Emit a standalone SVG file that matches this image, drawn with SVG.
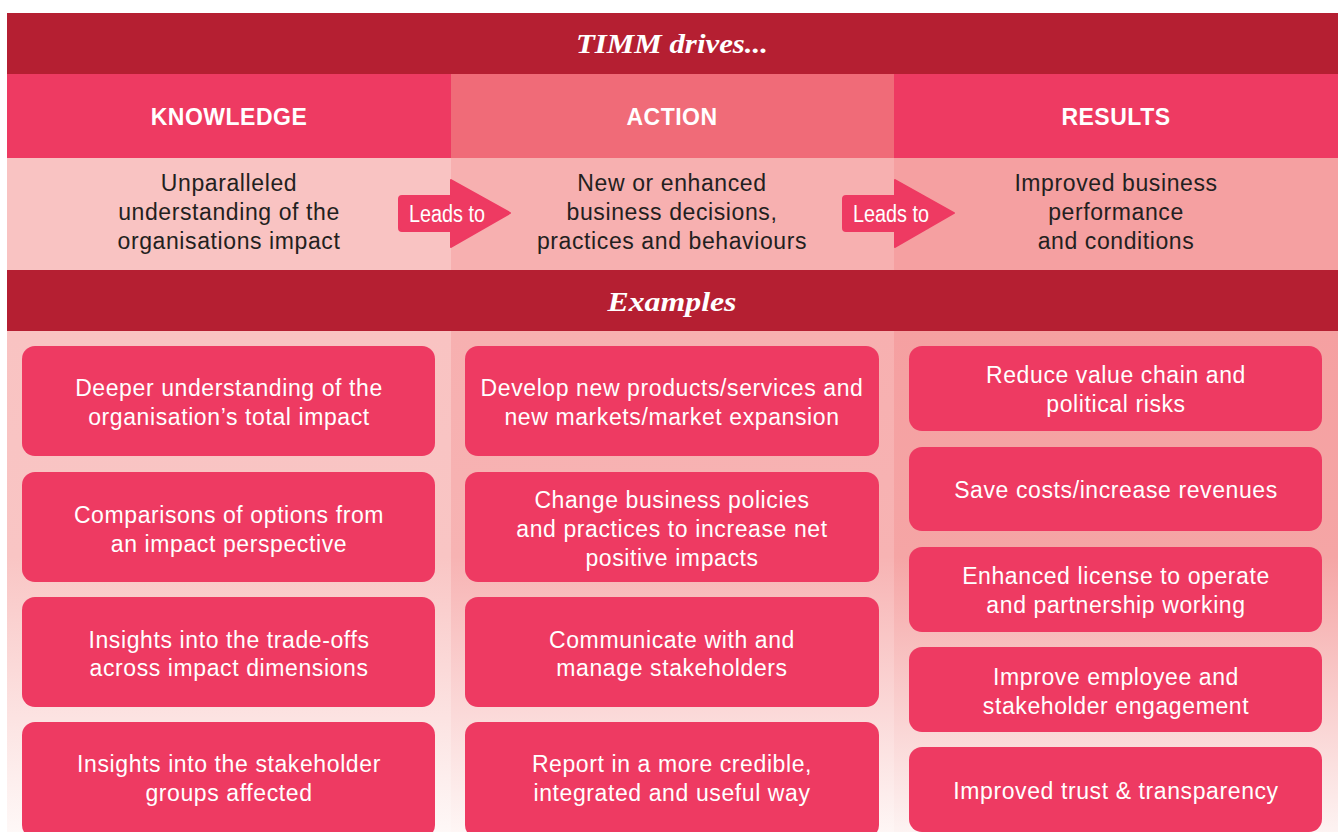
<svg xmlns="http://www.w3.org/2000/svg" width="1343" height="832" viewBox="0 0 1343 832">
  <defs>
    <linearGradient id="g1" gradientUnits="userSpaceOnUse" x1="0" y1="331" x2="0" y2="832">
      <stop offset="0" stop-color="#F9C3C2"/>
      <stop offset="0.45" stop-color="#F9C5C4"/>
      <stop offset="1" stop-color="#FEF8F7"/>
    </linearGradient>
    <linearGradient id="g2" gradientUnits="userSpaceOnUse" x1="0" y1="331" x2="0" y2="832">
      <stop offset="0" stop-color="#F7B0B0"/>
      <stop offset="0.45" stop-color="#F7B3B3"/>
      <stop offset="1" stop-color="#FEF6F5"/>
    </linearGradient>
    <linearGradient id="g3" gradientUnits="userSpaceOnUse" x1="0" y1="331" x2="0" y2="832">
      <stop offset="0" stop-color="#F5A0A1"/>
      <stop offset="0.45" stop-color="#F5A5A5"/>
      <stop offset="1" stop-color="#FDF3F2"/>
    </linearGradient>
    <style>
      .band { fill: #B51F32; }
      .title { font-family: "Liberation Serif", serif; font-weight: bold; font-style: italic; font-size: 27px; fill: #FFFFFF; text-anchor: middle; }
      .head { font-family: "Liberation Sans", Arial, sans-serif; font-weight: bold; font-size: 23px; letter-spacing: 0.5px; fill: #FFFFFF; text-anchor: middle; }
      .desc { font-family: "Liberation Sans", Arial, sans-serif; font-size: 23px; letter-spacing: 0.6px; fill: #231F20; text-anchor: middle; }
      .box { fill: #EE3A62; }
      .bt { font-family: "Liberation Sans", Arial, sans-serif; font-size: 23px; letter-spacing: 0.6px; fill: #FFFFFF; text-anchor: middle; }
      .arrow { fill: #EE3A62; stroke: #EE3A62; stroke-width: 2; stroke-linejoin: round; }
      .lt { font-family: "Liberation Sans Narrow", "Liberation Sans", Arial, sans-serif; font-size: 23px; fill: #FFFFFF; }
    </style>
  </defs>

  <g id="backgrounds">
    <rect class="band" x="7" y="13" width="1331" height="61"/>
    <rect x="7" y="74" width="444" height="84" fill="#EE3A62"/>
    <rect x="451" y="74" width="443" height="84" fill="#F06B78"/>
    <rect x="894" y="74" width="444" height="84" fill="#EE3A62"/>
    <rect x="7" y="158" width="444" height="112" fill="#F9C3C2"/>
    <rect x="451" y="158" width="443" height="112" fill="#F7B0B0"/>
    <rect x="894" y="158" width="444" height="112" fill="#F5A0A1"/>
    <rect class="band" x="7" y="270" width="1331" height="61"/>
    <rect x="7" y="331" width="444" height="501" fill="url(#g1)"/>
    <rect x="451" y="331" width="443" height="501" fill="url(#g2)"/>
    <rect x="894" y="331" width="444" height="501" fill="url(#g3)"/>
  </g>

  <g id="title">
    <text class="title" x="672" y="53" textLength="192" lengthAdjust="spacingAndGlyphs">TIMM drives...</text>
  </g>

  <g id="knowledge">
    <text class="head" x="229" y="125">KNOWLEDGE</text>
    <text class="desc" x="229" y="191">Unparalleled</text>
    <text class="desc" x="229" y="220">understanding of the</text>
    <text class="desc" x="229" y="249">organisations impact</text>
  </g>
  <g id="action">
    <text class="head" x="672" y="125">ACTION</text>
    <text class="desc" x="672" y="191">New or enhanced</text>
    <text class="desc" x="672" y="220">business decisions,</text>
    <text class="desc" x="672" y="249">practices and behaviours</text>
  </g>
  <g id="results">
    <text class="head" x="1116" y="125">RESULTS</text>
    <text class="desc" x="1116" y="191">Improved business</text>
    <text class="desc" x="1116" y="220">performance</text>
    <text class="desc" x="1116" y="249">and conditions</text>
  </g>

  <g id="connectors">
    <g id="arrow1">
      <path class="arrow" d="M402 196 H451 V180 L510 213 L451 247 V231 H402 Q399 231 399 228 V199 Q399 196 402 196 Z"/>
      <text class="lt" x="409" y="222" textLength="76" lengthAdjust="spacingAndGlyphs">Leads to</text>
    </g>
    <g id="arrow2">
      <path class="arrow" d="M846 196 H895 V180 L954 213 L895 247 V231 H846 Q843 231 843 228 V199 Q843 196 846 196 Z"/>
      <text class="lt" x="853" y="222" textLength="76" lengthAdjust="spacingAndGlyphs">Leads to</text>
    </g>
  </g>

  <g id="examples">
    <text class="title" x="672" y="311" textLength="129" lengthAdjust="spacingAndGlyphs">Examples</text>
  </g>

  <g id="k1"><rect class="box" x="22" y="346" width="413" height="110" rx="13"/>
    <text class="bt" x="229" y="396">Deeper understanding of the</text>
    <text class="bt" x="229" y="425">organisation’s total impact</text></g>
  <g id="k2"><rect class="box" x="22" y="472" width="413" height="110" rx="13"/>
    <text class="bt" x="229" y="523">Comparisons of options from</text>
    <text class="bt" x="229" y="552">an impact perspective</text></g>
  <g id="k3"><rect class="box" x="22" y="597" width="413" height="110" rx="13"/>
    <text class="bt" x="229" y="648">Insights into the trade-offs</text>
    <text class="bt" x="229" y="676">across impact dimensions</text></g>
  <g id="k4"><rect class="box" x="22" y="722" width="413" height="116" rx="13"/>
    <text class="bt" x="229" y="772">Insights into the stakeholder</text>
    <text class="bt" x="229" y="801">groups affected</text></g>

  <g id="a1"><rect class="box" x="465" y="346" width="414" height="110" rx="13"/>
    <text class="bt" x="672" y="396">Develop new products/services and</text>
    <text class="bt" x="672" y="425">new markets/market expansion</text></g>
  <g id="a2"><rect class="box" x="465" y="472" width="414" height="110" rx="13"/>
    <text class="bt" x="672" y="508">Change business policies</text>
    <text class="bt" x="672" y="537">and practices to increase net</text>
    <text class="bt" x="672" y="566">positive impacts</text></g>
  <g id="a3"><rect class="box" x="465" y="597" width="414" height="110" rx="13"/>
    <text class="bt" x="672" y="648">Communicate with and</text>
    <text class="bt" x="672" y="676">manage stakeholders</text></g>
  <g id="a4"><rect class="box" x="465" y="722" width="414" height="116" rx="13"/>
    <text class="bt" x="672" y="772">Report in a more credible,</text>
    <text class="bt" x="672" y="801">integrated and useful way</text></g>

  <g id="r1"><rect class="box" x="909" y="346" width="413" height="85" rx="13"/>
    <text class="bt" x="1116" y="383">Reduce value chain and</text>
    <text class="bt" x="1116" y="412">political risks</text></g>
  <g id="r2"><rect class="box" x="909" y="447" width="413" height="84" rx="13"/>
    <text class="bt" x="1116" y="498">Save costs/increase revenues</text></g>
  <g id="r3"><rect class="box" x="909" y="547" width="413" height="85" rx="13"/>
    <text class="bt" x="1116" y="584">Enhanced license to operate</text>
    <text class="bt" x="1116" y="613">and partnership working</text></g>
  <g id="r4"><rect class="box" x="909" y="647" width="413" height="85" rx="13"/>
    <text class="bt" x="1116" y="685">Improve employee and</text>
    <text class="bt" x="1116" y="714">stakeholder engagement</text></g>
  <g id="r5"><rect class="box" x="909" y="747" width="413" height="85" rx="13"/>
    <text class="bt" x="1116" y="799">Improved trust &amp; transparency</text></g>
</svg>
